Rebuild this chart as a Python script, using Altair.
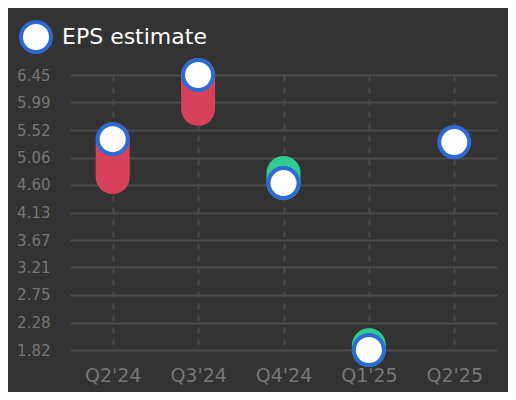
import altair as alt
import pandas as pd

# Quarterly EPS: consensus estimate vs reported
quarters = ["Q2'24", "Q3'24", "Q4'24", "Q1'25", "Q2'25"]
estimate = [5.37, 6.45, 4.63, 1.82, 5.32]
actual = [4.73, 5.88, 4.80, 1.90, None]
y_ticks = [1.82, 2.28, 2.75, 3.21, 3.67, 4.13, 4.60, 5.06, 5.52, 5.99, 6.45]

BG = "#333333"
GRID = "#4c4c4c"
LABEL = "#777777"
BLUE = "#2c6bd6"
GREEN = "#2ecc8f"
RED = "#d8415a"
FONT = "DejaVu Sans"

df = pd.DataFrame({"quarter": quarters, "estimate": estimate, "actual": actual})
df["result"] = ["beat" if a is not None and a >= e else "miss" for a, e in zip(actual, estimate)]
df["series"] = "EPS estimate"

x = alt.X(
    "quarter:N",
    sort=quarters,
    title=None,
    scale=alt.Scale(type="point", padding=0.5),
    axis=alt.Axis(
        labelAngle=0, labelFontSize=19, labelColor=LABEL, labelPadding=16,
        ticks=False, domain=False, grid=True, gridColor=GRID, gridWidth=2,
        gridDash=[6, 6],
    ),
)
y_scale = alt.Scale(domain=[min(y_ticks), max(y_ticks)], nice=False, zero=False)
y_axis = alt.Axis(
    values=y_ticks, format=".2f", labelFontSize=15, labelColor=LABEL,
    labelPadding=20, labelOverlap=False, ticks=False, domain=False,
    grid=True, gridColor=GRID, gridWidth=2,
)

bars = (
    alt.Chart(df[df["actual"].notna()])
    .mark_rule(strokeWidth=34, strokeCap="round")
    .encode(
        x=x,
        y=alt.Y("actual:Q", scale=y_scale, title=None, axis=y_axis),
        y2="estimate:Q",
        color=alt.Color(
            "result:N",
            scale=alt.Scale(domain=["beat", "miss"], range=[GREEN, RED]),
            legend=None,
        ),
    )
)

# circle size is diameter squared in Vega: 30px fill + 4px ring
dots = (
    alt.Chart(df)
    .mark_point(filled=False, fill="white", fillOpacity=1, strokeWidth=4, size=900, opacity=1)
    .encode(
        x=x,
        y=alt.Y("estimate:Q", scale=y_scale, title=None, axis=y_axis),
        stroke=alt.Stroke(
            "series:N",
            scale=alt.Scale(domain=["EPS estimate"], range=[BLUE]),
            legend=alt.Legend(
                title=None, orient="none", legendX=-51, legendY=-55, padding=0,
                symbolType="circle", symbolSize=900, symbolFillColor="white",
                symbolStrokeWidth=4, symbolOpacity=1, labelFontSize=22,
                labelColor="white", labelOffset=9,
            ),
        ),
    )
)

chart = (
    (bars + dots)
    .properties(
        width=427, height=275, background=BG,
        padding={"left": 62, "top": 67, "right": 11, "bottom": 42},
        autosize=alt.AutoSizeParams(type="none"),
    )
    .configure(font=FONT)
    .configure_view(strokeWidth=0)
)

chart.save("out.html", embed_options={"renderer": "svg", "actions": False})
